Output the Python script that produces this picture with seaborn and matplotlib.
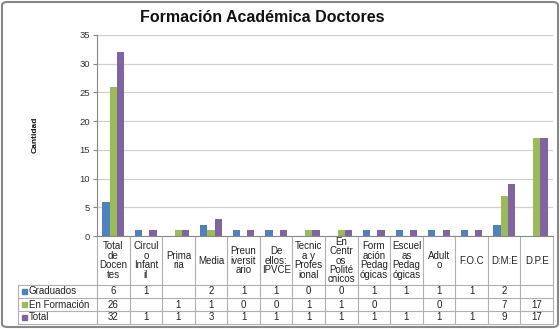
import numpy as np
import pandas as pd
import matplotlib
matplotlib.use("Agg")
import matplotlib.pyplot as plt
import seaborn as sns
from matplotlib.patches import Rectangle, FancyBboxPatch
from matplotlib.lines import Line2D

categories = ["Total\nde\nDocen\ntes", "Círcul\no\nInfant\nil", "Prima\nria", "Media",
              "Preun\niversit\nario", "De\nellos:\nIPVCE", "Tecnic\na y\nProfes\nional",
              "En\nCentr\nos\nPolité\ncnicos", "Form\nación\nPedag\nógicas",
              "Escuel\nas\nPedag\nógicas", "Adult\no", "F.O.C", "D:M:E", "D.P.E"]
series_names = ["Graduados", "En Formación", "Total"]
graduados = [6, 1, None, 2, 1, 1, 0, 0, 1, 1, 1, 1, 2, None]
en_formacion = [26, None, 1, 1, 0, 0, 1, 1, 0, None, 0, None, 7, 17]
total = [32, 1, 1, 3, 1, 1, 1, 1, 1, 1, 1, 1, 9, 17]
colors = ["#4F81BD", "#9BBB59", "#8064A2"]
title = "Formación Académica Doctores"
ylabel = "Cantidad"
yticks = [0, 5, 10, 15, 20, 25, 30, 35]

sns.set_theme(style="white")
plt.rcParams["font.family"] = ["Liberation Sans", "DejaVu Sans"]

rows = []
for s, vals in zip(series_names, [graduados, en_formacion, total]):
    for c, v in zip(categories, vals):
        if v is not None:
            rows.append({"cat": c, "serie": s, "val": v})
df = pd.DataFrame(rows)

W, H = 560, 329
fig = plt.figure(figsize=(W / 100, H / 100), dpi=100)
x0, x1, ytop, ybot = 97, 553, 35, 236
ax = fig.add_axes([x0 / W, 1 - ybot / H, (x1 - x0) / W, (ybot - ytop) / H])

sns.barplot(data=df, x="cat", y="val", hue="serie", order=categories,
            hue_order=series_names, palette=colors, width=0.67, saturation=1,
            errorbar=None, legend=False, linewidth=0, ax=ax)

ax.set_xlim(-0.5, len(categories) - 0.5)
ax.set_ylim(0, 35)
ax.set_yticks(yticks)
ax.set_yticklabels([str(t) for t in yticks], fontsize=6.8, color="#333333")
ax.tick_params(axis="y", length=3, width=0.8, color="#888888", pad=2, left=True)
ax.set_xticks([])
ax.set_xlabel("")
ax.set_ylabel("")
ax.grid(axis="y", color="#D0D0D0", linewidth=0.9)
ax.set_axisbelow(True)
for sp in ["top", "right", "bottom"]:
    ax.spines[sp].set_visible(False)
ax.spines["left"].set_color("#888888")
ax.spines["left"].set_linewidth(0.8)

# Title and y label
fig.text(262 / W, 1 - 17 / H, title, ha="center", va="center", fontsize=11.5,
         fontweight="bold", color="#111111")
fig.text(35 / W, 1 - 135 / H, ylabel, ha="center", va="center", rotation=90,
         fontsize=6, fontweight="bold", color="#111111")

# Data table below the axes
axh = ybot - ytop
def ya(py):
    return -(py - ybot) / axh

tr = ax.get_xaxis_transform()
n = len(categories)
hdr_bot, r1, r2, r3 = 285, 298, 311, 324
lc = "#B0B0B0"
xl = -0.5 - (x0 - 18) / (x1 - x0) * n
fs = 7.0
# vertical lines
for i in range(n + 1):
    ax.add_line(Line2D([i - 0.5, i - 0.5], [0, ya(r3)], transform=tr, color=lc,
                       lw=0.8, clip_on=False))
ax.add_line(Line2D([xl, xl], [ya(hdr_bot), ya(r3)], transform=tr, color=lc,
                   lw=0.8, clip_on=False))
for py in [hdr_bot, r1, r2, r3]:
    ax.add_line(Line2D([xl, n - 0.5], [ya(py), ya(py)], transform=tr, color=lc,
                       lw=0.8, clip_on=False))
ax.add_line(Line2D([-0.5, n - 0.5], [0, 0], transform=tr, color="#888888",
                   lw=0.8, clip_on=False))

for i, c in enumerate(categories):
    ax.text(i, ya((ybot + hdr_bot) / 2), c, transform=tr, ha="center", va="center",
            fontsize=fs, linespacing=0.92, color="#222222", clip_on=False)

row_tops = [hdr_bot, r1, r2]
for k, (s, vals, col) in enumerate(zip(series_names, [graduados, en_formacion, total], colors)):
    yc = ya(row_tops[k] + 6.5)
    ax.text(xl + 0.33, yc, s, transform=tr, ha="left", va="center", fontsize=fs,
            color="#222222", clip_on=False)
    ax.add_patch(Rectangle((xl + 0.13, yc - 0.013), 0.16, 0.027, transform=tr,
                           color=col, clip_on=False))
    for i, v in enumerate(vals):
        if v is not None:
            ax.text(i, yc, str(v), transform=tr, ha="center", va="center",
                    fontsize=fs, color="#222222", clip_on=False)

# chart border
fig.patches.append(FancyBboxPatch((2 / W, 2 / H), 1 - 4 / W, 1 - 4 / H,
                                  boxstyle="round,pad=0,rounding_size=0.01",
                                  transform=fig.transFigure, fill=False,
                                  edgecolor="#878787", linewidth=1.5))

fig.savefig("out.png", dpi=100)
